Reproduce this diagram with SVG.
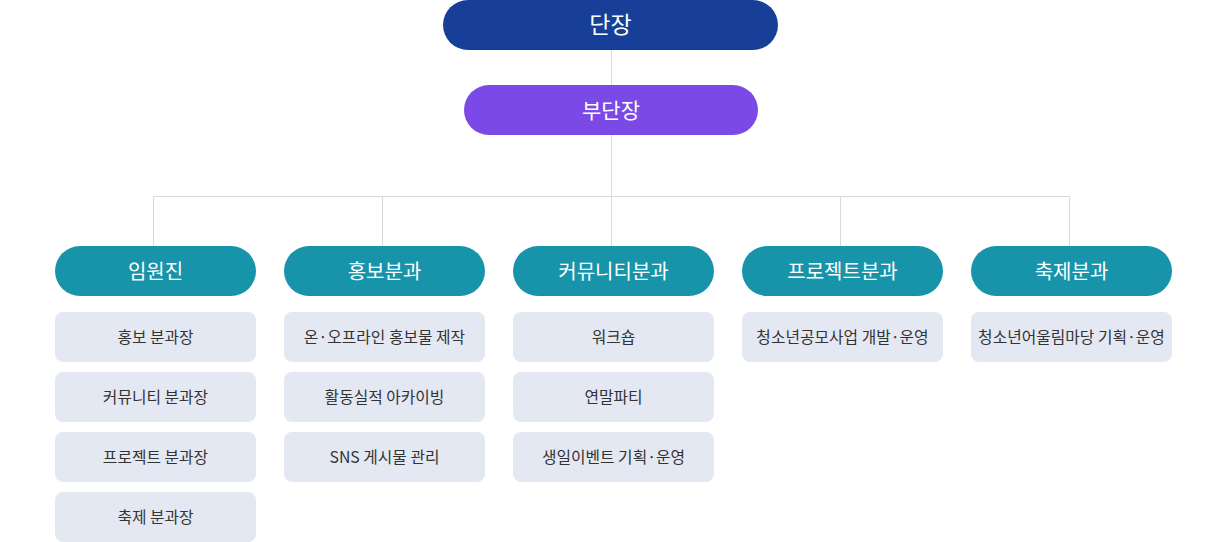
<svg xmlns="http://www.w3.org/2000/svg" width="1224" height="542" viewBox="0 0 1224 542">
<style>
text{font-family:"Noto Sans CJK KR","Noto Sans",sans-serif;text-anchor:middle;dominant-baseline:central}
.head text{fill:#fff;font-size:21px;font-weight:400}
.cat rect{fill:#1794AA}
.cat text{fill:#fff;font-size:20px;font-weight:400}
.item rect{fill:#E4E8F3}
.item text{fill:#333;font-size:15.8px}
.conn{stroke:#D9D9D9;stroke-width:1;fill:none}
</style>
<g id="connectors" class="conn">
<path d="M611.5 50V85M611.5 135V196.5M153.5 196.5H1069.5M153.5 196.5V246M382.5 196.5V246M611.5 196.5V246M840.5 196.5V246M1069.5 196.5V246"/>
</g>
<g id="n-danjang" class="head"><rect x="443" y="0" width="335" height="50" rx="25" fill="#173F97"/><text x="610.5" y="23" style="font-size:23px">단장</text></g>
<g id="n-budanjang" class="head"><rect x="464" y="85" width="294" height="50" rx="25" fill="#7A49E6"/><text x="611" y="109">부단장</text></g>

<g id="c1" class="cat"><rect x="55" y="246" width="201" height="50" rx="25"/><text x="155.5" y="270">임원진</text></g>
<g id="c2" class="cat"><rect x="284" y="246" width="201" height="50" rx="25"/><text x="384.5" y="270">홍보분과</text></g>
<g id="c3" class="cat"><rect x="513" y="246" width="201" height="50" rx="25"/><text x="613.5" y="270">커뮤니티분과</text></g>
<g id="c4" class="cat"><rect x="742" y="246" width="201" height="50" rx="25"/><text x="842.5" y="270">프로젝트분과</text></g>
<g id="c5" class="cat"><rect x="971" y="246" width="201" height="50" rx="25"/><text x="1071.5" y="270">축제분과</text></g>

<g id="i1a" class="item"><rect x="55" y="312" width="201" height="50" rx="8"/><text x="155.5" y="336">홍보 분과장</text></g>
<g id="i1b" class="item"><rect x="55" y="372" width="201" height="50" rx="8"/><text x="155.5" y="396">커뮤니티 분과장</text></g>
<g id="i1c" class="item"><rect x="55" y="432" width="201" height="50" rx="8"/><text x="155.5" y="456">프로젝트 분과장</text></g>
<g id="i1d" class="item"><rect x="55" y="492" width="201" height="50" rx="8"/><text x="155.5" y="516">축제 분과장</text></g>

<g id="i2a" class="item"><rect x="284" y="312" width="201" height="50" rx="8"/><text x="384.5" y="336">온·오프라인 홍보물 제작</text></g>
<g id="i2b" class="item"><rect x="284" y="372" width="201" height="50" rx="8"/><text x="384.5" y="396">활동실적 아카이빙</text></g>
<g id="i2c" class="item"><rect x="284" y="432" width="201" height="50" rx="8"/><text x="384.5" y="456">SNS 게시물 관리</text></g>

<g id="i3a" class="item"><rect x="513" y="312" width="201" height="50" rx="8"/><text x="613.5" y="336">워크숍</text></g>
<g id="i3b" class="item"><rect x="513" y="372" width="201" height="50" rx="8"/><text x="613.5" y="396">연말파티</text></g>
<g id="i3c" class="item"><rect x="513" y="432" width="201" height="50" rx="8"/><text x="613.5" y="456">생일이벤트 기획·운영</text></g>

<g id="i4a" class="item"><rect x="742" y="312" width="201" height="50" rx="8"/><text x="842.5" y="336">청소년공모사업 개발·운영</text></g>

<g id="i5a" class="item"><rect x="971" y="312" width="201" height="50" rx="8"/><text x="1071.5" y="336">청소년어울림마당 기획·운영</text></g>
</svg>
